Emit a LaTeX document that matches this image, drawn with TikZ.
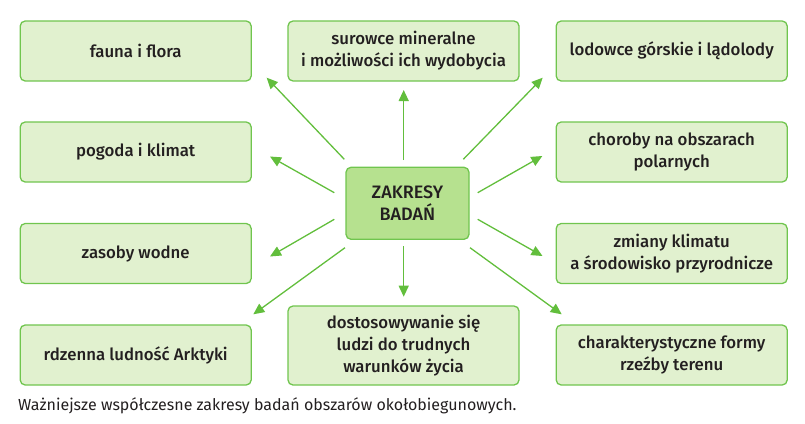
\documentclass[tikz,border=0pt]{standalone}
\usepackage{fontspec}
\setmainfont{Fira Sans}
\newfontfamily\medfont{Fira Sans}[UprightFont={* Medium}]
\usetikzlibrary{arrows.meta}
\definecolor{boxfill}{RGB}{225,241,207}
\definecolor{boxline}{RGB}{112,197,78}
\definecolor{cfill}{RGB}{182,225,143}
\definecolor{arr}{RGB}{98,190,60}
\definecolor{txt}{RGB}{35,31,32}
\begin{document}
\begin{tikzpicture}[x=1pt,y=-1pt,
  box/.style={draw=boxline,fill=boxfill,line width=1.3pt,rounded corners=5pt,
    minimum width=231pt,minimum height=60pt,align=center,inner sep=0pt,
    text=txt,font=\medfont\fontsize{16.8}{22}\selectfont},
  cbox/.style={box,fill=cfill,minimum width=123pt,minimum height=72pt,
    font=\medfont\fontsize{18}{22}\selectfont},
  conn/.style={draw=arr,line width=1.3pt,-{Triangle[length=11pt,width=10pt]}}]
\useasboundingbox (0,0) rectangle (805,423);
\node[box] (fauna) at (135.7,51) {fauna i flora};
\node[box] (pogoda) at (135.7,152) {pogoda i klimat};
\node[box] (zasoby) at (135.7,253.5) {zasoby wodne};
\node[box] (rdzenna) at (135.7,355) {rdzenna ludność Arktyki};
\node[box] (surowce) at (403.5,51) {surowce mineralne\\i możliwości ich wydobycia};
\node[box,minimum height=79pt] (dosto) at (403.5,345.5) {dostosowywanie się\\ludzi do trudnych\\warunków życia};
\node[box] (lodowce) at (671.7,51) {lodowce górskie i lądolody};
\node[box] (choroby) at (671.7,152) {choroby na obszarach\\polarnych};
\node[box] (zmiany) at (671.7,253.5) {zmiany klimatu\\a środowisko przyrodnicze};
\node[box] (formy) at (671.7,355) {charakterystyczne formy\\rzeźby terenu};
\node[cbox] (center) at (407.5,203.3) {ZAKRESY\\BADAŃ};
\node[anchor=base west,inner sep=0pt,text=txt,font=\fontsize{16}{18}\selectfont] (caption) at (18,410.5) {Ważniejsze współczesne zakresy badań obszarów okołobiegunowych.};
% arrow coordinates
\coordinate (s1) at (344.3,159.3); \coordinate (t1) at (266.7,77.7);
\coordinate (s2) at (403.7,160);   \coordinate (t2) at (403.7,90);
\coordinate (s3) at (463.3,159.3); \coordinate (t3) at (542.7,77.7);
\coordinate (s4) at (334.3,192.7); \coordinate (t4) at (270,156.5);
\coordinate (s5) at (477.7,192.7); \coordinate (t5) at (542.3,156);
\coordinate (s6) at (334.3,219.3); \coordinate (t6) at (270,256.5);
\coordinate (s7) at (477.7,219.3); \coordinate (t7) at (542.5,256);
\coordinate (s8) at (345,247.7);   \coordinate (t8) at (253.3,314.3);
\coordinate (s9) at (403.7,246);   \coordinate (t9) at (403.7,296.7);
\coordinate (s10) at (470,247.7);  \coordinate (t10) at (561.7,314.3);
\foreach \i in {1,...,10}{\draw[conn] (s\i) -- (t\i);}
\end{tikzpicture}
\end{document}
